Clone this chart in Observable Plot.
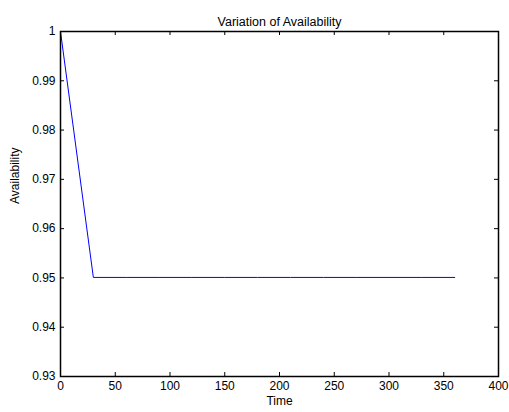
<!DOCTYPE html>
<html>
<head>
<meta charset="utf-8">
<script src="https://cdn.jsdelivr.net/npm/d3@7"></script>
<script src="https://cdn.jsdelivr.net/npm/@observablehq/plot@0.6"></script>
<style>
  html, body { margin: 0; padding: 0; background: #fff; }
  #chart svg { display: block; }
</style>
</head>
<body>
<div id="chart"></div>
<script>
// Data
const time = [0, 30, 60, 90, 120, 150, 180, 210, 240, 270, 300, 330, 360];
const availability = [1, 0.9501, 0.9501, 0.9501, 0.9501, 0.9501, 0.9501, 0.9501, 0.9501, 0.9501, 0.9501, 0.9501, 0.9501];
const xTicks = [0, 50, 100, 150, 200, 250, 300, 350, 400];
const yTicks = [0.93, 0.94, 0.95, 0.96, 0.97, 0.98, 0.99, 1];
const titleText = "Variation of Availability";
const xLabel = "Time";
const yLabel = "Availability";

const W = 509, H = 412;
const mL = 60, mR = 11, mT = 31, mB = 36;
const plotH = H - mT - mB, plotW = W - mL - mR;
const tickLen = 4;
const font = "'Liberation Sans', Arial, Helvetica, sans-serif";

const data = time.map((t, i) => ({t, a: availability[i]}));

const chart = Plot.plot({
  width: W,
  height: H,
  marginLeft: mL,
  marginRight: mR,
  marginTop: mT,
  marginBottom: mB,
  style: {fontFamily: font, fontSize: "12px", color: "#000", background: "#fff"},
  x: {domain: [0, 400], ticks: xTicks, tickSize: 0, tickPadding: 5, label: null, tickFormat: d => String(d)},
  y: {domain: [0.93, 1], ticks: yTicks, tickSize: 0, tickPadding: 5, label: null, tickFormat: d => String(+d.toFixed(2))},
  marks: [
    // inward ticks on all four sides
    Plot.ruleX(xTicks, {x: d => d, insetTop: plotH - tickLen, stroke: "#000"}),
    Plot.ruleX(xTicks, {x: d => d, insetBottom: plotH - tickLen, stroke: "#000"}),
    Plot.ruleY(yTicks, {y: d => d, insetRight: plotW - tickLen, stroke: "#000"}),
    Plot.ruleY(yTicks, {y: d => d, insetLeft: plotW - tickLen, stroke: "#000"}),
    Plot.line(data, {x: "t", y: "a", stroke: "#0000ff", strokeWidth: 1}),
    Plot.frame({stroke: "#000", strokeWidth: 1.5}),
    Plot.text([titleText], {frameAnchor: "top", dy: -14, fontSize: 12.5, fill: "#000", text: d => d}),
    Plot.text([xLabel], {frameAnchor: "bottom", dy: 28, fontSize: 12, fill: "#000", text: d => d}),
    Plot.text([yLabel], {frameAnchor: "left", dx: -45, rotate: -90, fontSize: 12, fill: "#000", text: d => d})
  ]
});
document.getElementById("chart").appendChild(chart);
</script>
</body>
</html>
